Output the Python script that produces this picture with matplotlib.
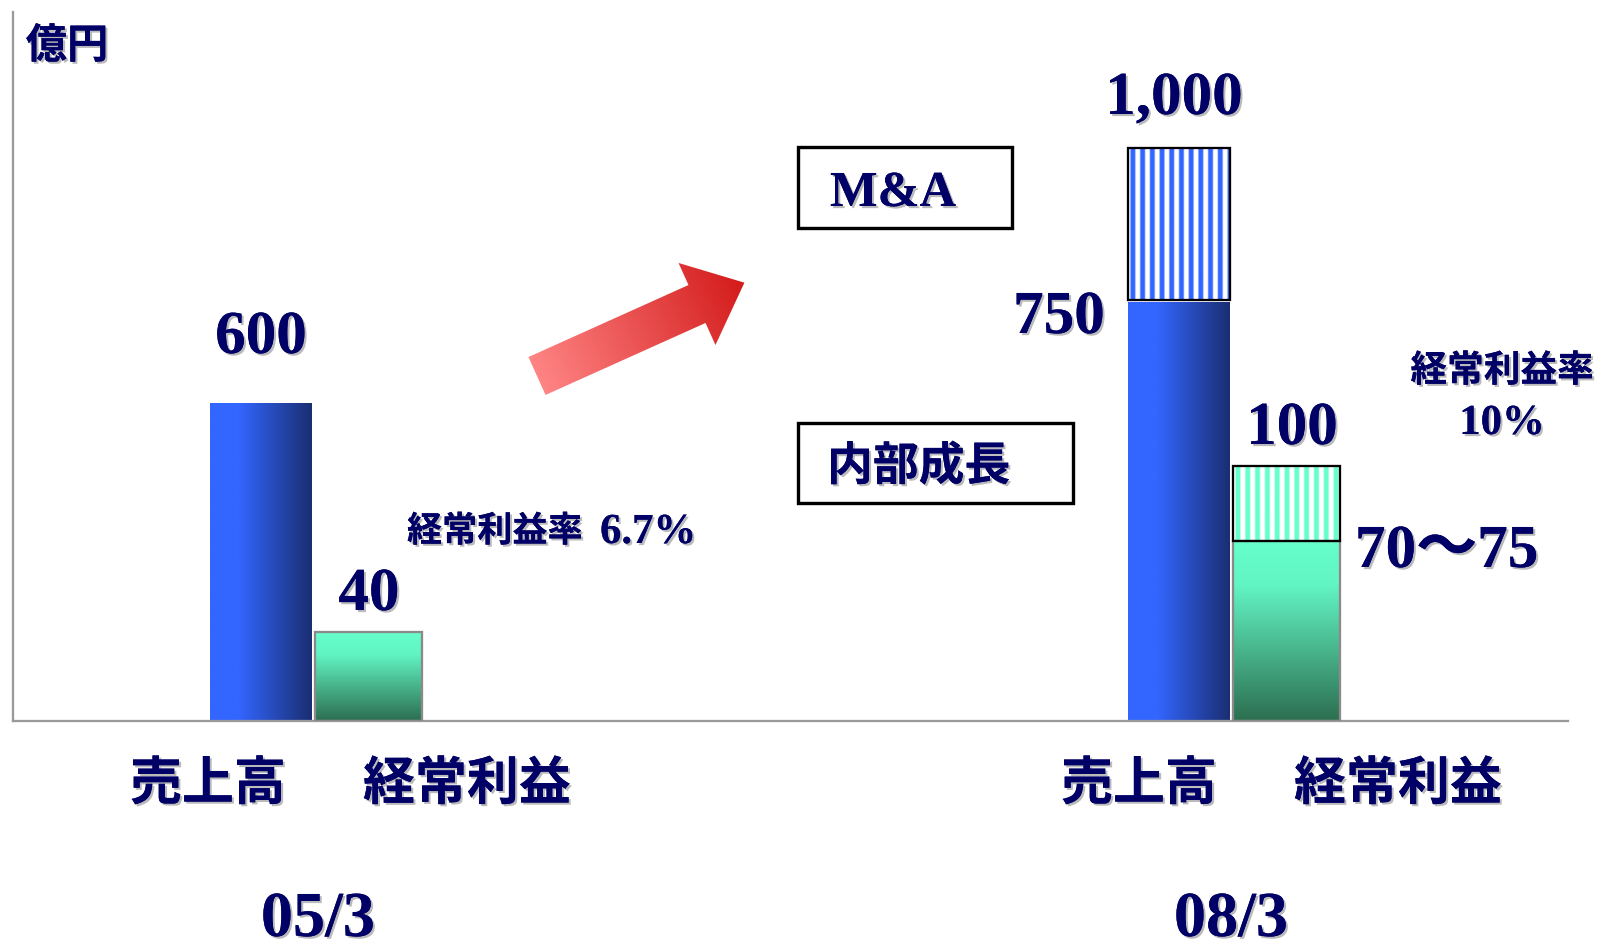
import matplotlib
matplotlib.use('Agg')
import matplotlib.pyplot as plt
import matplotlib.patheffects as pe
from matplotlib.colors import LinearSegmentedColormap
from matplotlib.patches import FancyArrow, Rectangle
import numpy as np

# data (bar heights as drawn in the picture, the chart is not to scale)
periods = ['05/3', '08/3']
categories = ['売上高', '経常利益']
sales_base = [318, 419]      # 600 / 750 (内部成長)
sales_ma = [0, 154]          # 1,000 with M&A
profit_base = [89, 180]      # 40 / 70～75
profit_extra = [0, 75]       # 100 with M&A
sales_labels = ['600', '1,000']
profit_labels = ['40', '100']
base_labels_0803 = ['750', '70～75']
margin_names = ['経常利益率', '経常利益率']
margin_values = ['6.7%', '10%']

NAVY = '#000066'
DPI = 110
SERIF = ['Liberation Serif', 'Noto Sans CJK JP']
GOTHIC = ['Noto Sans CJK JP', 'DejaVu Sans']

shadow = [pe.withSimplePatchShadow(offset=(1.4, -1.4), shadow_rgbFace='#8c8c8c', alpha=0.6),
          pe.Normal()]

blue_cmap = LinearSegmentedColormap.from_list(
    'b', [(0, '#3366ff'), (0.28, '#3366ff'), (1, '#1a2e72')])
green_cmap = LinearSegmentedColormap.from_list(
    'g', [(0, '#66ffcc'), (0.25, '#62f5c4'), (1, '#2c6e50')])

fig = plt.figure(figsize=(1600 / DPI, 948 / DPI), dpi=DPI)
ax = fig.add_axes([13 / 1600, (948 - 721) / 948, 1555 / 1600, 709 / 948])

x = np.arange(len(periods))
w_s, w_p = 0.111, 0.1166
off_s, off_p = -0.0599, 0.0572


def fill_image(patch, arr, cmap):
    x0, y0 = patch.get_x(), patch.get_y()
    x1, y1 = x0 + patch.get_width(), y0 + patch.get_height()
    im = ax.imshow(arr, cmap=cmap, extent=(x0, x1, y0, y1), origin='upper',
                   aspect='auto', zorder=patch.get_zorder(), interpolation='bilinear',
                   vmin=0, vmax=1)
    im.set_clip_path(patch)


def stripes(n_periods):
    t = np.linspace(0, n_periods, 1200)
    v = np.clip(0.5 + 1.4 * np.cos(2 * np.pi * t), 0, 1)
    return v[None, :]


g = np.linspace(0, 1, 256)

sales = ax.bar(x + off_s, sales_base, width=w_s, color='none', lw=0, zorder=2)
for p in sales:
    fill_image(p, g[None, :], blue_cmap)

profit = ax.bar(x + off_p, profit_base, width=w_p, color='none', zorder=2)
for p in profit:
    fill_image(p, g[:, None], green_cmap)
ax.bar(x + off_p, profit_base, width=w_p, fill=False, edgecolor='#8a8a8a', lw=1.5, zorder=3)

# M&A portions (striped)
blue_white = LinearSegmentedColormap.from_list('bw', ['#3366ff', '#ffffff'])
green_white = LinearSegmentedColormap.from_list('gw', ['#66ffcc', '#ffffff'])

idx = [i for i in x if sales_ma[i] > 0]
sb = [sales_base[i] + 1.5 for i in idx]
sh = [sales_ma[i] - 1.5 for i in idx]
for p in ax.bar(x[idx] + off_s, sh, bottom=sb, width=w_s, color='none', lw=0, zorder=2):
    fill_image(p, stripes(10.5), blue_white)
ax.bar(x[idx] + off_s, sh, bottom=sb, width=w_s, fill=False, edgecolor='black', lw=1.5, zorder=3)

idx = [i for i in x if profit_extra[i] > 0]
pb = [profit_base[i] for i in idx]
ph = [profit_extra[i] for i in idx]
for p in ax.bar(x[idx] + off_p, ph, bottom=pb, width=w_p, color='none', lw=0, zorder=2):
    fill_image(p, stripes(11), green_white)
ax.bar(x[idx] + off_p, ph, bottom=pb, width=w_p, fill=False, edgecolor='black', lw=1.5, zorder=3)

ax.set_xlim(-0.330, 1.364)
ax.set_ylim(0, 709)
ax.set_xticks([])
ax.set_yticks([])
for s in ['top', 'right']:
    ax.spines[s].set_visible(False)
for s in ['left', 'bottom']:
    ax.spines[s].set_color('#9a9a9a')
    ax.spines[s].set_linewidth(1.5)
ax.patch.set_alpha(0)

# overlay in pixel coordinates for annotations
ov = fig.add_axes([0, 0, 1, 1], zorder=5)
ov.axis('off')
ov.patch.set_alpha(0)


def txt(px, py, s, size, family, ha='center', va='baseline', **kw):
    ov.text(px, py, s, fontsize=size, family=family, fontweight='bold', color=NAVY,
            ha=ha, va=va, path_effects=shadow, **kw)


txt(67, 46, '億円', 27, GOTHIC, va='center')

# value labels
txt(261, 353, sales_labels[0], 40, SERIF)
txt(369, 610, profit_labels[0], 40, SERIF)
txt(1174, 114, sales_labels[1], 40, SERIF)
txt(1292, 444, profit_labels[1], 40, SERIF)
txt(1105, 333, base_labels_0803[0], 40, SERIF, ha='right')
txt(1355, 567, base_labels_0803[1], 40, SERIF, ha='left')

# margin labels
txt(407, 531, margin_names[0], 23, GOTHIC, ha='left', va='center')
txt(600, 543, margin_values[0], 28, SERIF, ha='left')
txt(1502, 371, margin_names[1], 24, GOTHIC, va='center')
txt(1502, 434, margin_values[1], 28, SERIF)

# boxes
ov.add_patch(Rectangle((798, 147), 214, 81, fill=False, edgecolor='black', lw=2.2))
txt(830, 206, 'M&A', 33, SERIF, ha='left')
ov.add_patch(Rectangle((798, 423), 275, 80, fill=False, edgecolor='black', lw=2.2))
txt(827, 467, '内部成長', 30, GOTHIC, ha='left', va='center')

# category and period labels
cat_px = [(208, 467), (1139, 1398)]
per_px = [318, 1231]
for k in range(len(periods)):
    for c, px in zip(categories, cat_px[k]):
        txt(px, 784, c, 34, GOTHIC, va='center')
    txt(per_px[k], 936, periods[k], 42, SERIF)

# growth arrow with gradient
arrow = FancyArrow(537, 376, 160, -72, width=41.6, head_width=90,
                   head_length=52, length_includes_head=False, lw=0, color='none')
ov.add_patch(arrow)
gx0, gx1, gy0, gy1 = 520, 760, 250, 400
gxx, gyy = np.meshgrid(np.linspace(gx0, gx1, 200), np.linspace(gy0, gy1, 130))
d = np.array([206, -93]) / np.hypot(206, -93)
proj = ((gxx - 537) * d[0] + (gyy - 376) * d[1]) / 226
red_cmap = LinearSegmentedColormap.from_list('r', ['#ff8484', '#d41c1c'])
im = ov.imshow(np.clip(proj, 0, 1), cmap=red_cmap, extent=(gx0, gx1, gy1, gy0),
               origin='upper', aspect='auto', zorder=2)
im.set_clip_path(arrow)
ov.set_xlim(0, 1600)
ov.set_ylim(948, 0)

fig.savefig('out.png', dpi=DPI)
